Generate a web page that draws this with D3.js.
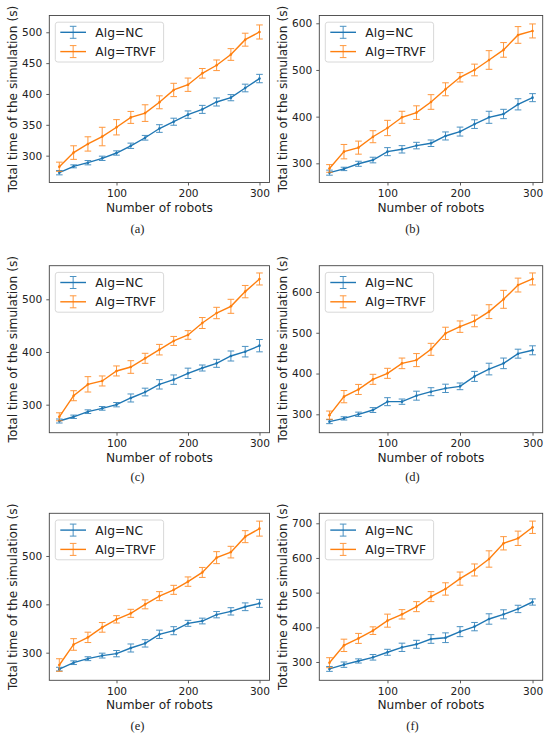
<!DOCTYPE html>
<html><head><meta charset="utf-8">
<script src="https://cdn.jsdelivr.net/npm/d3@7"></script>
<style>body{margin:0;background:#fff}</style></head>
<body><svg id="chart" width="550" height="736"></svg>
<script>
// ---------- data ----------
const robots = [20,40,60,80,100,120,140,160,180,200,220,240,260,280,300];
const xTicks = [100,200,300];
const xRange = [6,314];
const seriesNames = ["Alg=NC","Alg=TRVF"];
const captions = ["(a)","(b)","(c)","(d)","(e)","(f)"];

const ncA = [272.4,282.7,288.6,295.7,304.3,316,329,344,355,366.5,375,387,394,409.7,425];
const ncAErr = [3.5,2.4,3.5,3.5,3.5,4.3,3.8,6.2,5.7,6,6.5,6.5,5,6.2,6.8];
const trA = [282,305,319,331,346,362,369,386.5,406.5,415,433.5,446.5,464,488,500.5];
const trAErr = [7.5,11,11.6,15,12.4,9.7,13.5,10.5,10.8,10.8,7.8,8.6,9.5,10.5,11.4];
const yRangeA = [256.5,527.2];
const yTicksA = [300,350,400,450,500];

const ncB = [280,288,299,307,325,330,338,343,358.6,368,384,398.6,405.7,426.4,440.7];
const ncBErr = [5.4,3.6,5.4,6,8.6,7.9,7,7,8.6,9.6,9.3,12.9,10,12,8.6];
const trB = [289,325,333.6,357,375.7,398.6,408.6,431.4,458.6,484.3,500,521.4,543,575,583.6];
const trBErr = [8.2,15.4,14,12.9,16.4,12.9,14.6,15.7,13.9,10,12.5,20,15.7,17.9,15];
const yRangeB = [258.9,616.7];
const yTicksB = [300,400,500,600];

const ncC = [269,277,286.7,293,300,312.7,324,338.6,347.5,359.5,369.6,378.5,392.4,400.6,412];
const ncCErr = [3.8,3.2,3.5,3.5,4.1,7.6,7.3,8.9,8.9,9.8,5.7,7.6,9.5,10,11.7];
const trC = [277,317,338.6,345,364,371.5,388,404.4,421,432.3,455,474,486.7,514.6,538.6];
const trCErr = [7.6,9.5,14.6,9.5,9.5,12,9.5,10,8.5,8.2,10.4,10.8,13.3,11.7,11.4];
const yRangeC = [246.8,563.8];
const yTicksC = [300,400,500];

const ncD = [282,290,300,310.5,331,331,345.7,355.5,363.7,368.6,393,411,425,448.7,457];
const ncDErr = [4.9,4,5.3,6,9.8,6.5,11,9.8,10.2,8.2,12.3,14.3,13,11,11];
const trD = [298,343.3,361,385.8,400.5,425,433,459.4,498.6,515,529,551.8,582,617,632];
const trDErr = [10,15,12.3,12.3,12.3,13,16,14.7,15,14,14.3,17,22,17,14.7];
const yRangeD = [254.9,664.5];
const yTicksD = [300,400,500,600];

const ncE = [266,279.3,287.6,294,298,309.7,319.3,338,345.5,360.7,365.5,378.6,385.5,395,402];
const ncEErr = [3.8,3.8,4,5,6.5,8.3,7.6,8.6,8.3,6.2,5.9,6.5,7.6,8,8.3];
const trE = [274.5,317,331.7,352.4,369,381.4,400,417,430,447,466,496.6,508,540,556.6];
const trEErr = [13,12,10.7,10,7.6,8.3,9.3,9.3,9.3,9.7,10.3,12.4,12,12.4,15.5];
const yRangeE = [242.9,588.3];
const yTicksE = [300,400,500];

const ncF = [280,292.3,303,313.5,328,342.3,351,366.3,370,387.5,402,424,437.5,453,473];
const ncFErr = [7,7.7,6,8,8.6,12,11.5,12.5,14,14.4,12,15,13,10.6,9];
const trF = [298,348,368,390.4,419.2,437.5,459.6,488.5,510.6,540.4,565.4,597,642.3,656.7,688.5];
const trFErr = [14.4,17.8,14.4,11,18.8,13.5,14.4,14.4,17.8,19,17.3,23.6,19.2,20.7,17.8];
const yRangeF = [247.2,728.8];
const yTicksF = [300,400,500,600,700];

// ---------- layout ----------
const panels = [
  {nc:ncA, ncErr:ncAErr, tr:trA, trErr:trAErr, yDom:yRangeA, yTicks:yTicksA},
  {nc:ncB, ncErr:ncBErr, tr:trB, trErr:trBErr, yDom:yRangeB, yTicks:yTicksB},
  {nc:ncC, ncErr:ncCErr, tr:trC, trErr:trCErr, yDom:yRangeC, yTicks:yTicksC},
  {nc:ncD, ncErr:ncDErr, tr:trD, trErr:trDErr, yDom:yRangeD, yTicks:yTicksD},
  {nc:ncE, ncErr:ncEErr, tr:trE, trErr:trEErr, yDom:yRangeE, yTicks:yTicksE},
  {nc:ncF, ncErr:ncFErr, tr:trF, trErr:trFErr, yDom:yRangeF, yTicks:yTicksF}
];
const cols = [{l:49.3, r:269.5, cx:137.5}, {l:319.3, r:542.7, cx:412.5}];
const rows = [{t:15.5, b:182.5, cap:233}, {t:265.7, b:432.7, cap:481}, {t:513.3, b:680.3, cap:730}];
const colors = ["#1f77b4","#ff7f0e"];
const sans = "'DejaVu Sans', sans-serif";

const svg = d3.select("#chart");

panels.forEach((p, i) => {
  const c = cols[i % 2], r = rows[Math.floor(i / 2)];
  const x = d3.scaleLinear().domain(xRange).range([c.l, c.r]);
  const y = d3.scaleLinear().domain(p.yDom).range([r.b, r.t]);
  const g = svg.append("g");

  // axes
  const ax = g.append("g").attr("transform", `translate(0,${r.b})`)
    .call(d3.axisBottom(x).tickValues(xTicks).tickSize(3).tickPadding(4));
  const ay = g.append("g").attr("transform", `translate(${c.l},0)`)
    .call(d3.axisLeft(y).tickValues(p.yTicks).tickSize(3).tickPadding(4));
  [ax, ay].forEach(a => {
    a.select(".domain").remove();
    a.selectAll(".tick line").attr("stroke", "#333").attr("stroke-width", 0.8);
    a.selectAll(".tick text").attr("font-family", sans).attr("font-size", 10.6).attr("fill", "#222");
  });

  // frame
  g.append("rect").attr("x", c.l).attr("y", r.t).attr("width", c.r - c.l).attr("height", r.b - r.t)
    .attr("fill", "none").attr("stroke", "#444").attr("stroke-width", 0.9);

  // series
  const series = [{v:p.nc, e:p.ncErr}, {v:p.tr, e:p.trErr}];
  series.forEach((s, k) => {
    const pts = robots.map((rb, j) => ({x: rb, v: s.v[j], e: s.e[j]}));
    g.append("path").datum(pts)
      .attr("d", d3.line().x(d => x(d.x)).y(d => y(d.v)))
      .attr("fill", "none").attr("stroke", colors[k]).attr("stroke-width", 1.4);
    const eb = g.append("g").attr("stroke", colors[k]).attr("stroke-width", 1).attr("opacity", 0.8);
    pts.forEach(d => {
      const xx = x(d.x), y0 = y(d.v - d.e), y1 = y(d.v + d.e);
      eb.append("line").attr("x1", xx).attr("x2", xx).attr("y1", y0).attr("y2", y1);
      eb.append("line").attr("x1", xx - 3.3).attr("x2", xx + 3.3).attr("y1", y0).attr("y2", y0);
      eb.append("line").attr("x1", xx - 3.3).attr("x2", xx + 3.3).attr("y1", y1).attr("y2", y1);
    });
    g.append("g").selectAll("circle").data(pts).join("circle")
      .attr("cx", d => x(d.x)).attr("cy", d => y(d.v)).attr("r", 1.3).attr("fill", colors[k]);
  });

  // legend
  const lx = c.l + 6, ly = r.t + 6.7;
  g.append("rect").attr("x", lx).attr("y", ly).attr("width", 108.3).attr("height", 39.8)
    .attr("rx", 2.5).attr("fill", "#fff").attr("fill-opacity", 0.85)
    .attr("stroke", "#d4d4d4").attr("stroke-width", 0.9);
  seriesNames.forEach((name, k) => {
    const yy = r.t + 16.8 + k * 19.3;
    const hx0 = c.l + 11, hx1 = c.l + 36.7, hm = (hx0 + hx1) / 2;
    g.append("line").attr("x1", hx0).attr("x2", hx1).attr("y1", yy).attr("y2", yy)
      .attr("stroke", colors[k]).attr("stroke-width", 1.4);
    const lg = g.append("g").attr("stroke", colors[k]).attr("stroke-width", 1).attr("opacity", 0.8);
    lg.append("line").attr("x1", hm).attr("x2", hm).attr("y1", yy - 6).attr("y2", yy + 6);
    lg.append("line").attr("x1", hm - 3.3).attr("x2", hm + 3.3).attr("y1", yy - 6).attr("y2", yy - 6);
    lg.append("line").attr("x1", hm - 3.3).attr("x2", hm + 3.3).attr("y1", yy + 6).attr("y2", yy + 6);
    g.append("text").attr("x", c.l + 46).attr("y", yy).attr("dy", "0.36em")
      .attr("font-family", sans).attr("font-size", 12.3).attr("fill", "#222").text(name);
  });

  // axis labels
  g.append("text").attr("x", (c.l + c.r) / 2).attr("y", r.b + 29)
    .attr("text-anchor", "middle").attr("font-family", sans).attr("font-size", 12.2).attr("fill", "#222")
    .text("Number of robots");
  const yc = (r.t + r.b) / 2, xl = c.l - 37;
  g.append("text").attr("transform", `translate(${xl},${yc}) rotate(-90)`).attr("dy", "0.36em")
    .attr("text-anchor", "middle").attr("font-family", sans).attr("font-size", 12.2).attr("fill", "#222")
    .text("Total time of the simulation (s)");

  // caption
  g.append("text").attr("x", c.cx).attr("y", r.cap).attr("text-anchor", "middle")
    .attr("font-family", "'Liberation Serif', serif").attr("font-size", 12.5).attr("fill", "#222")
    .text(captions[i]);
});
</script></body></html>
